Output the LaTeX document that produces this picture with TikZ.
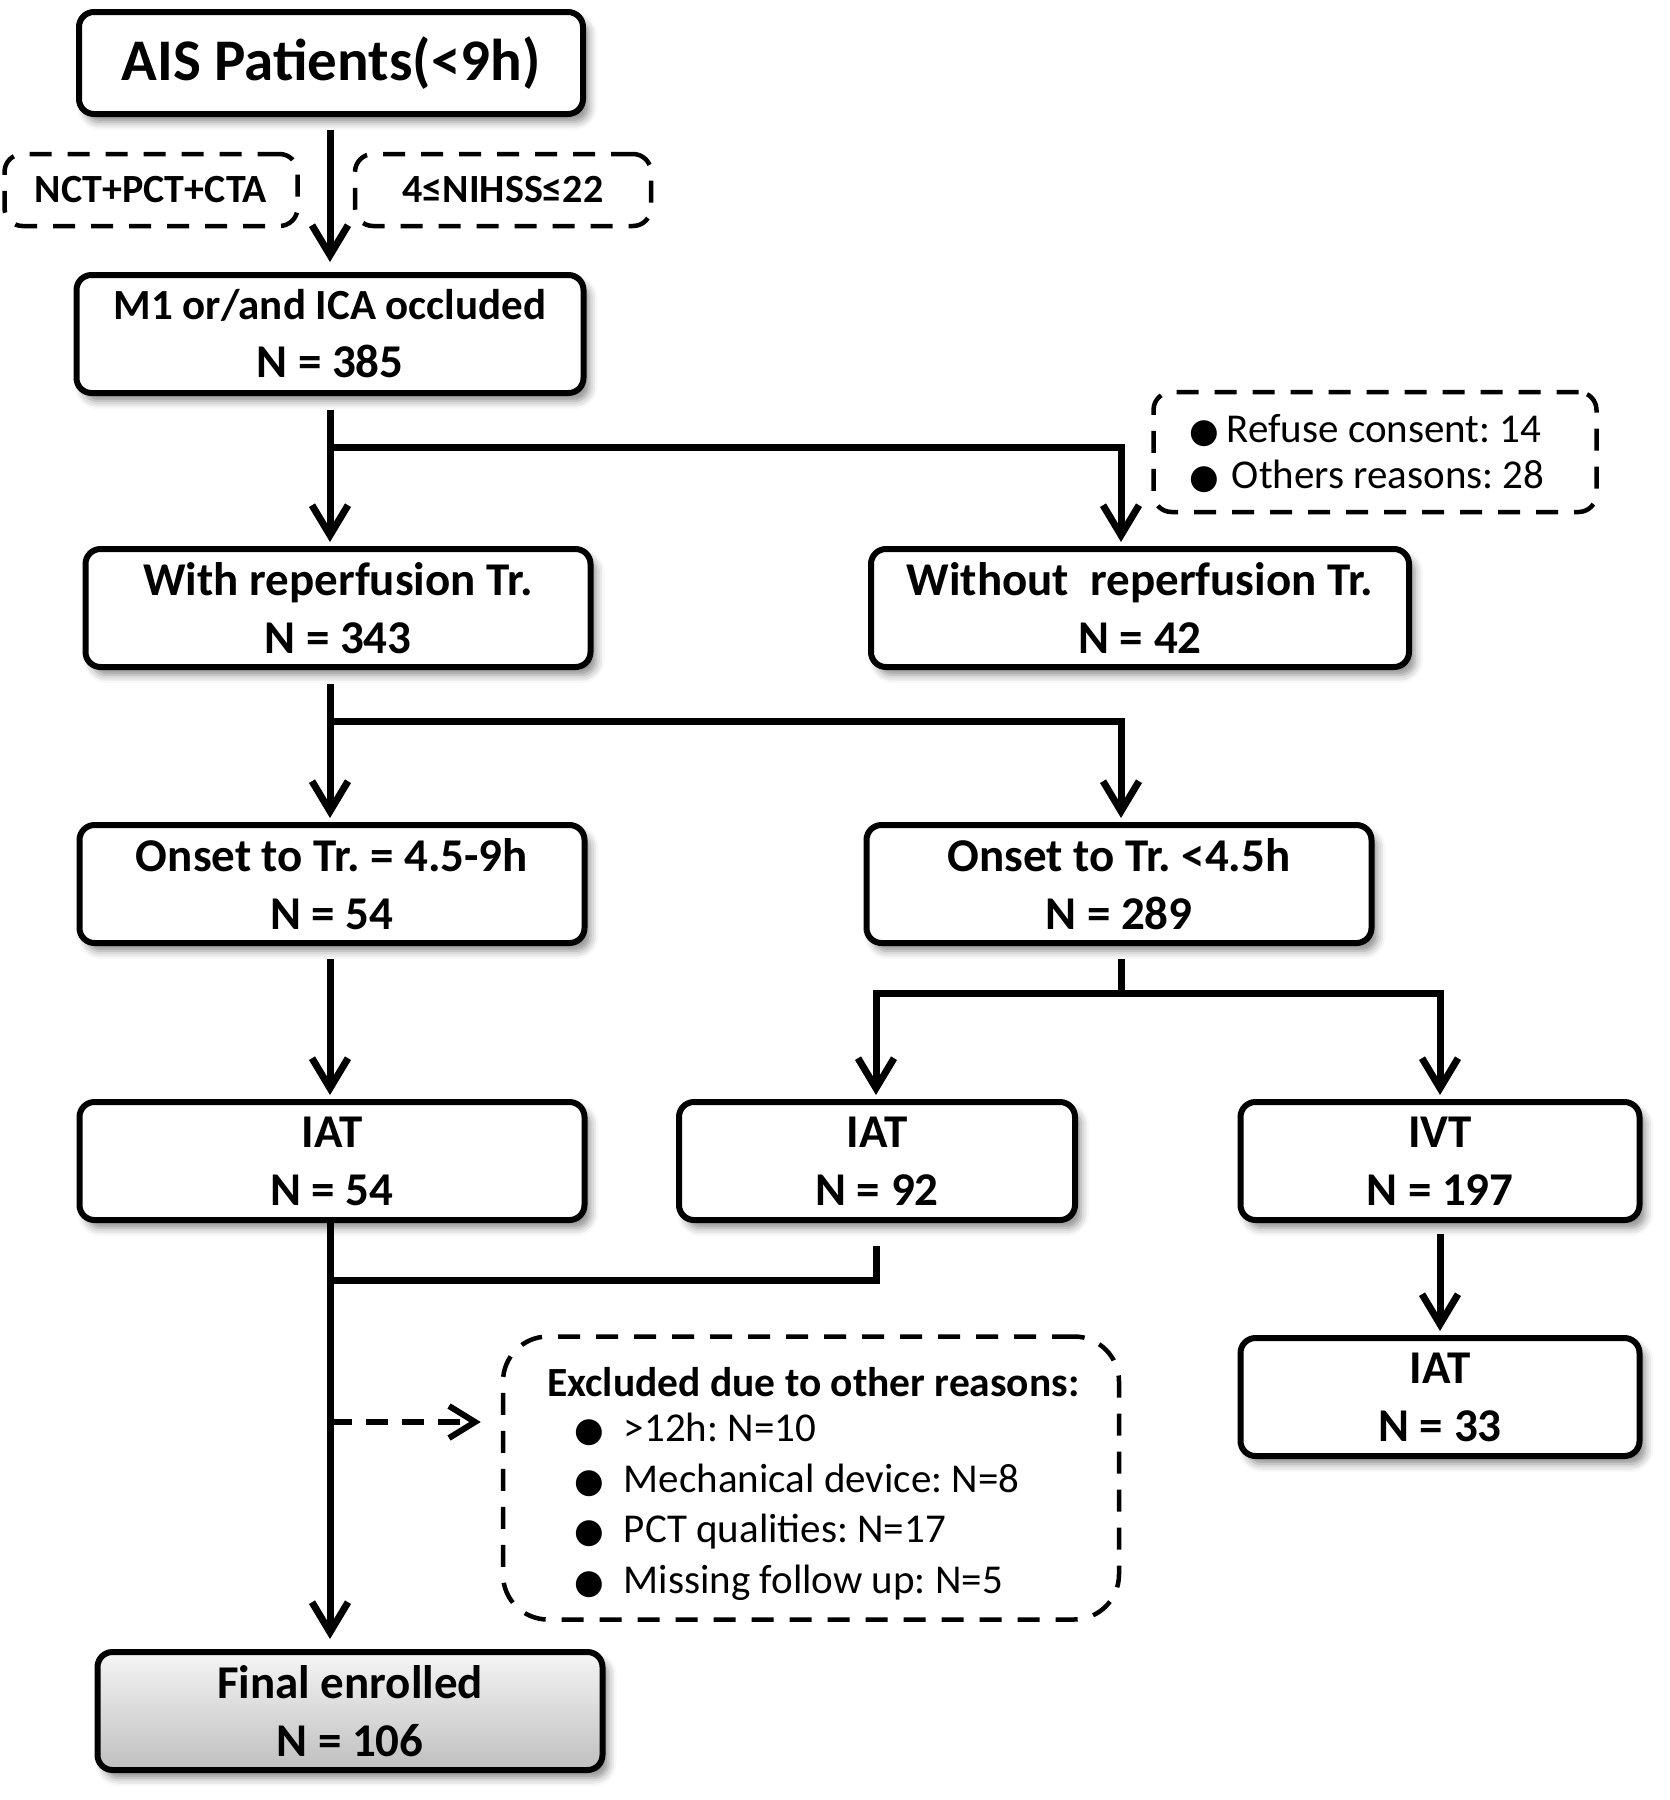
\documentclass[tikz,border=0pt]{standalone}
\usepackage{fontspec}
\setmainfont{Carlito}
\newfontfamily\sym{DejaVu Sans}
\usetikzlibrary{arrows.meta,shadows.blur}
\newcommand\bul{{\sym\fontsize{34}{34}\selectfont ●}}
\frenchspacing
\begin{document}
\frenchspacing
\begin{tikzpicture}[x=1pt,y=-1pt,
  box/.style={draw, line width=6pt, rounded corners=15pt, fill=white, align=center,
    font=\bfseries\fontsize{47}{58}\selectfont, inner sep=0pt,
    blur shadow={shadow xshift=6pt, shadow yshift=-8pt, shadow blur radius=8pt, shadow opacity=45}},
  dbox/.style={draw, line width=4.5pt, dash pattern=on 22pt off 16pt, rounded corners=18pt, fill=white, inner sep=0pt},
  conn/.style={line width=7pt},
  arr/.style={conn, -{Straight Barb[length=30pt,width=36pt]}},
  darr/.style={line width=6pt, dash pattern=on 22pt off 14pt, -{Straight Barb[length=26pt,width=32pt]}},
  ttext/.style={inner sep=0pt, align=left},
]
\useasboundingbox (0,0) rectangle (1670,1800);

% boxes
\node[box, minimum width=504pt, minimum height=102pt, font=\bfseries\fontsize{59}{60}\selectfont] (ais) at (331,63) {AIS Patients(<9h)};
\node[dbox, minimum width=293pt, minimum height=72pt, font=\bfseries\fontsize{40}{42}\selectfont] (nct) at (151,190) {NCT+PCT+CTA};
\node[dbox, minimum width=296pt, minimum height=72pt, font=\bfseries\fontsize{40}{42}\selectfont] (nih) at (503,190) {4≤NIHSS≤22};
\node[box, minimum width=507pt, minimum height=118pt] (m1) at (330,334) {{\fontsize{43}{58}\selectfont M1 or/and ICA occluded}\\N = 385};
\node[dbox, minimum width=443pt, minimum height=120pt] (ref) at (1375,452) {};
\node[ttext, anchor=base west, font=\fontsize{41}{46}\selectfont] (reft) at (1189,488) {\bul\hspace{8pt}Refuse consent: 14\\\bul\hspace{13pt}Others reasons: 28};
\node[box, minimum width=505pt, minimum height=118pt] (with) at (338,608) {With reperfusion Tr.\\N = 343};
\node[box, minimum width=538pt, minimum height=118pt] (without) at (1140,608) {Without\ \ reperfusion Tr.\\N = 42};
\node[box, minimum width=505pt, minimum height=118pt] (on1) at (332,884) {Onset to Tr. = 4.5-9h\\N = 54};
\node[box, minimum width=505pt, minimum height=118pt] (on2) at (1119,884) {Onset to Tr. <4.5h\\N = 289};
\node[box, minimum width=505pt, minimum height=118pt] (iat1) at (332,1161) {IAT\\N = 54};
\node[box, minimum width=396pt, minimum height=118pt] (iat2) at (877,1161) {IAT\\N = 92};
\node[box, minimum width=399pt, minimum height=118pt] (ivt) at (1440,1161) {IVT\\N = 197};
\node[box, minimum width=399pt, minimum height=118pt] (iat3) at (1440,1397) {IAT\\N = 33};
\node[dbox, minimum width=616pt, minimum height=283pt, rounded corners=45pt] (excl) at (811,1478) {};
\node[ttext, anchor=base west, font=\bfseries\fontsize{41.5}{44}\selectfont] (exclt) at (547,1396) {Excluded due to other reasons:};
\node[ttext, anchor=base west, font=\fontsize{41}{50.5}\selectfont] (excli) at (574,1593)
  {\bul\hspace{20pt}>12h: N=10\\\bul\hspace{20pt}Mechanical device: N=8\\\bul\hspace{20pt}PCT qualities: N=17\\\bul\hspace{20pt}Missing follow up: N=5};
\node[box, minimum width=505pt, minimum height=118pt, top color=gray!8, bottom color=gray!50] (final) at (350,1711) {Final enrolled\\N = 106};

% junction coordinates
\coordinate (j1) at (330,447);
\coordinate (j1r) at (1121,447);
\coordinate (j2) at (330,721);
\coordinate (j2r) at (1121,721);
\coordinate (j3) at (1121,993);
\coordinate (j3l) at (876,993);
\coordinate (j3r) at (1440,993);
\coordinate (j4) at (330,1280);
\coordinate (j4r) at (876,1280);
\coordinate (jd) at (330,1422);

% connectors
\draw[arr, shorten >=10pt] ([yshift=-13pt]ais.south -| j1) -- (m1.north -| j1);
\draw[conn] ([yshift=-14pt]m1.south -| j1) -- (j1);
\draw[arr, shorten >=4pt] (j1) -- (with.north -| j1);
\draw[arr, shorten >=4pt] (j1) -- (j1r) -- (without.north -| j1r);
\draw[conn] ([yshift=-14pt]with.south -| j2) -- (j2);
\draw[arr, shorten >=4pt] (j2) -- (on1.north -| j2);
\draw[arr, shorten >=4pt] (j2) -- (j2r) -- (on2.north -| j2r);
\draw[arr, shorten >=4pt] ([yshift=-13pt]on1.south -| j2) -- (iat1.north -| j2);
\draw[conn] ([yshift=-13pt]on2.south -| j3) -- (j3);
\draw[arr, shorten >=4pt] (j3) -- (j3l) -- (iat2.north -| j3l);
\draw[arr, shorten >=4pt] (j3) -- (j3r) -- (ivt.north);
\draw[arr, shorten >=4pt] ([yshift=-11pt]ivt.south) -- (iat3.north);
\draw[arr, shorten >=10pt] (iat1.south -| j4) -- (final.north -| j4);
\draw[conn] ([yshift=-23pt]iat2.south -| j4r) -- (j4r) -- (j4);
\draw[darr, shorten >=20pt] (jd) -- (excl.west |- jd) ;
\end{tikzpicture}
\end{document}
